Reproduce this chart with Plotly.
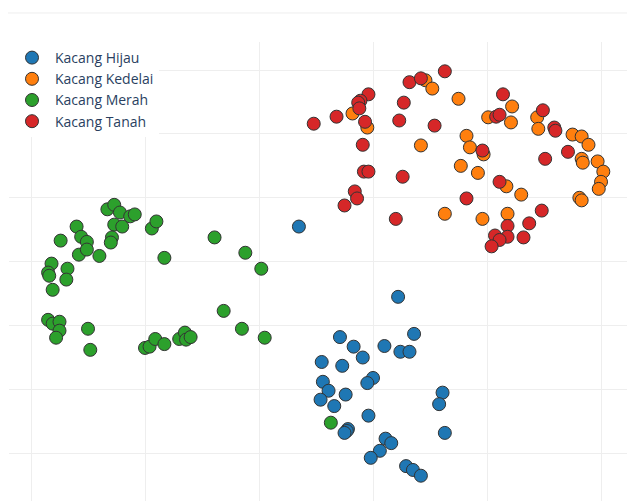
import plotly.graph_objects as go

# Data (embedding coordinates)
hijau_x = [-6.5, 2.2, 3.6, -2.9, -1.7, 1.0, 2.4, 3.2, -0.9, -4.5, -2.7, 0.0, -0.5, -4.4, -3.9, -4.6,
           -3.4, -2.4, 6.1, 5.8, -0.4, -2.2, -2.3, -2.5, 6.3, 1.1, 1.6, 0.6, -0.2, 2.9, 3.5, 4.2]
hijau_y = [5.5, -5.5, -11.3, -11.8, -13.3, -13.2, -14.1, -14.1, -15.0, -15.7, -16.3, -18.2, -19.0, -18.8, -20.2, -21.6,
           -22.6, -20.8, -20.5, -22.3, -24.1, -26.2, -26.5, -26.8, -26.8, -27.7, -28.4, -29.6, -30.7, -32.0, -32.6, -33.5]

kedelai_x = [4.6, 5.2, -1.8, -0.5, 7.5, 12.2, 10.1, 12.1, 14.4, 14.5, 4.2, 8.2, 8.5, 9.7, 7.7, 9.2,
             11.7, 13.0, 6.3, 9.6, 11.8, 17.5, 18.3, 18.9, 18.3, 18.4, 19.7, 20.2, 20.0, 19.8, 18.1, 18.3]
kedelai_y = [28.4, 27.1, 23.2, 21.0, 25.5, 24.3, 22.6, 21.8, 22.6, 20.8, 18.2, 19.7, 17.9, 16.8, 15.0, 13.9,
             11.8, 10.5, 7.5, 6.7, 7.5, 19.9, 19.6, 18.3, 16.1, 15.5, 15.7, 14.1, 12.5, 11.4, 10.0, 9.6]

merah_x = [-23.3, -22.7, -22.2, -21.3, -20.9, -22.7, -22.0, -26.0, -25.6, -25.1, -27.4, -22.9, -23.0, -19.4, -19.0, -13.9,
           -11.2, -25.8, -25.1, -24.0, -18.3, -9.8, -28.2, -28.5, -28.4, -26.8, -26.9, -28.1, -28.5, -28.1, -27.5, -27.5,
           -27.8, -25.0, -24.8, -20.0, -19.6, -19.1, -18.3, -17.0, -16.5, -16.4, -16.0, -13.1, -11.5, -9.5, -3.7]
merah_y = [8.2, 8.9, 7.7, 7.1, 7.4, 5.8, 5.5, 5.5, 3.9, 3.1, 3.3, 3.8, 3.0, 5.2, 6.3, 3.8,
           1.4, 1.1, 1.9, 0.9, 0.6, -1.1, -0.3, -1.7, -2.2, -1.1, -2.8, -4.4, -9.1, -9.7, -9.4, -10.8,
           -11.9, -10.5, -13.8, -13.5, -13.3, -12.1, -12.9, -12.1, -11.1, -12.2, -11.8, -7.7, -10.5, -11.9, -25.2]

tanah_x = [6.3, 3.2, 4.2, -0.4, -1.1, -1.3, -1.2, 2.7, -3.2, -5.2, -0.7, 2.3, 5.4, -0.9, -0.8, -0.4,
           2.6, -1.6, -1.4, -2.5, 2.0, 8.2, 11.4, 10.8, 11.1, 14.9, 15.9, 16.0, 9.6, 11.1, 15.1, 17.1,
           14.8, 13.7, 11.8, 11.8, 13.2, 10.7, 11.1, 10.4]
tanah_y = [29.8, 28.1, 28.7, 26.2, 25.2, 24.9, 24.0, 24.9, 22.7, 21.6, 21.9, 22.1, 21.3, 18.3, 14.1, 14.1,
           13.3, 11.0, 9.9, 8.8, 6.7, 9.9, 26.2, 22.7, 23.0, 23.7, 21.0, 20.5, 17.4, 12.5, 16.1, 17.2,
           8.0, 6.0, 5.6, 3.9, 3.8, 4.1, 3.4, 2.4]

series = [
    ("Kacang Hijau", hijau_x, hijau_y, "#1f77b4"),
    ("Kacang Kedelai", kedelai_x, kedelai_y, "#ff7f0e"),
    ("Kacang Merah", merah_x, merah_y, "#2ca02c"),
    ("Kacang Tanah", tanah_x, tanah_y, "#d62728"),
]

fig = go.Figure()
for name, xs, ys, col in series:
    fig.add_trace(go.Scatter(
        x=xs, y=ys, mode="markers", name=name,
        marker=dict(size=13, color=col, line=dict(width=1, color="#333333")),
    ))

grid = "#eeeeee"
fig.update_layout(
    width=627, height=493,
    margin=dict(l=1, r=0, t=34, b=0, pad=0),
    paper_bgcolor="white", plot_bgcolor="white",
    font=dict(family="Open Sans", size=14, color="#2a3f5f"),
    showlegend=True,
    legend=dict(x=0, y=1, xanchor="left", yanchor="top", bgcolor="white", itemwidth=36,
                font=dict(size=14, color="#2a3f5f")),
    xaxis=dict(range=[-31.93, 22.98], dtick=10, tick0=0, showticklabels=False,
               showgrid=True, gridcolor=grid, gridwidth=1, zeroline=False, showline=False, ticks=""),
    yaxis=dict(range=[-37.46, 34.39], dtick=10, tick0=0, showticklabels=False,
               showgrid=True, gridcolor=grid, gridwidth=1, zeroline=False, showline=False, ticks=""),
    shapes=[dict(type="line", xref="paper", yref="paper", x0=-0.01, x1=1.0, y0=1.0632, y1=1.0632,
                 line=dict(color=grid, width=1), layer="below")],
)

fig.write_html("out.html")
